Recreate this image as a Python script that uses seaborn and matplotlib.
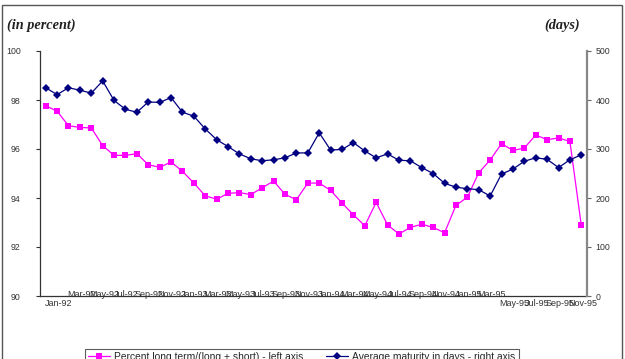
import numpy as np
import pandas as pd
import matplotlib
matplotlib.use("Agg")
import matplotlib.pyplot as plt
import matplotlib.transforms as mtransforms
from matplotlib.patches import Rectangle
import seaborn as sns

# ---- data (monthly, Jan-92 .. Dec-95) ----
pct_long = [97.77, 97.54, 96.95, 96.88, 96.86, 96.14, 95.74, 95.74, 95.81, 95.36,
            95.25, 95.47, 95.09, 94.61, 94.09, 93.95, 94.19, 94.22, 94.14, 94.42,
            94.69, 94.15, 93.93, 94.61, 94.61, 94.31, 93.80, 93.31, 92.87, 93.82,
            92.90, 92.53, 92.80, 92.93, 92.80, 92.58, 93.70, 94.03, 95.03, 95.55,
            96.22, 95.94, 96.04, 96.57, 96.38, 96.45, 96.31, 92.88]
avg_maturity = [425, 411, 425, 420, 414, 439, 399, 381, 375, 396,
                395, 405, 375, 367, 341, 319, 305, 290, 280, 276,
                278, 282, 292, 292, 333, 298, 299, 313, 296, 282,
                290, 277, 276, 262, 250, 230, 222, 219, 217, 204,
                249, 259, 275, 282, 279, 262, 278, 288]
tick_labels = ["Jan-92", "Mar-92", "May-92", "Jul-92", "Sep-92", "Nov-92",
               "Jan-93", "Mar-93", "May-93", "Jul-93", "Sep-93", "Nov-93",
               "Jan-94", "Mar-94", "May-94", "Jul-94", "Sep-94", "Nov-94",
               "Jan-95", "Mar-95", "May-95", "Jul-95", "Sep-95", "Nov-95"]
label_pct = "Percent long term/(long + short) - left axis"
label_mat = "Average maturity in days - right axis"

df = pd.DataFrame({"month": np.arange(len(pct_long)),
                   "pct": pct_long, "mat": avg_maturity})

sns.set_style("white")
plt.rcParams["font.family"] = ["Liberation Sans", "DejaVu Sans"]

W, H = 625, 359
fig = plt.figure(figsize=(W / 100, H / 100), dpi=100)

# chart border
fig.patches.append(Rectangle((2 / W, -0.2), 620 / W, 1.2 - 5 / H,
                             transform=fig.transFigure, fill=False,
                             edgecolor="#555555", linewidth=1.0))

ax = fig.add_axes([40 / W, 1 - 296 / H, (587 - 40) / W, (296 - 51) / H])
ax2 = ax.twinx()

sns.lineplot(data=df, x="month", y="pct", ax=ax, color="#FF00FF",
             marker="s", markersize=4, markeredgewidth=0, linewidth=0.9,
             label=label_pct, legend=False)
sns.lineplot(data=df, x="month", y="mat", ax=ax2, color="#000080",
             marker="D", markersize=3.6, markeredgewidth=0, linewidth=0.9,
             label=label_mat, legend=False)

n = len(pct_long)
ax.set_xlim(-0.5, n - 0.5)
ax.set_ylim(90, 100)
ax2.set_ylim(0, 500)
ax.set_yticks(np.arange(90, 101, 2))
ax2.set_yticks(np.arange(0, 501, 100))

# x ticks: small marks between category pairs, labels every 2 months
ax.set_xticks(np.arange(-0.5, n, 2), minor=True)
ax.set_xticks(np.arange(len(tick_labels)) * 2 + 1.1)
ax.set_xticklabels(tick_labels)
ax.tick_params(axis="x", which="major", length=0, pad=2, labelsize=6.5,
               labelcolor="#333333")
ax.tick_params(axis="x", which="minor", length=2.5, width=0.8,
               direction="out", color="#333333")
ax.tick_params(axis="y", length=3, width=0.8, direction="out",
               labelsize=6.3, pad=11, labelcolor="#333333", color="#333333")
ax2.tick_params(axis="y", length=3, width=0.8, direction="out",
                labelsize=6.3, pad=3, labelcolor="#333333", color="#666666")

# labels of the middle span are drawn raised, overlapping the axis line
shift = mtransforms.ScaledTranslation(0, 8.5 / 100, fig.dpi_scale_trans)
for i, t in enumerate(ax.get_xticklabels()):
    if 1 <= i <= 19:
        t.set_transform(t.get_transform() + shift)

ax.set_xlabel("")
ax.set_ylabel("")
ax2.set_ylabel("")
for a in (ax, ax2):
    a.spines["top"].set_visible(False)
    a.patch.set_visible(False)
ax.spines["left"].set_color("#333333")
ax.spines["left"].set_linewidth(0.9)
ax.spines["bottom"].set_color("#333333")
ax.spines["bottom"].set_linewidth(0.9)
ax.spines["right"].set_visible(False)
ax2.spines["left"].set_visible(False)
ax2.spines["bottom"].set_visible(False)
ax2.spines["right"].set_color("#888888")
ax2.spines["right"].set_linewidth(1.6)

# header texts
fig.text(7 / W, 1 - 25 / H, "(in percent)", family="Liberation Serif",
         style="italic", weight="bold", fontsize=10.3, va="center", ha="left",
         color="#222222")
fig.text(580 / W, 1 - 25 / H, "(days)", family="Liberation Serif",
         style="italic", weight="bold", fontsize=10.3, va="center", ha="right",
         color="#222222")

h1, l1 = ax.get_legend_handles_labels()
h2, l2 = ax2.get_legend_handles_labels()
leg = fig.legend(h1 + h2, l1 + l2, loc="upper left",
                 bbox_to_anchor=(85 / W, 1 - 349 / H), ncol=2,
                 fontsize=7.4, frameon=True, fancybox=False,
                 handlelength=2.1, handletextpad=0.45, columnspacing=2.2,
                 borderpad=0.3, borderaxespad=0)
leg.get_frame().set_edgecolor("#333333")
leg.get_frame().set_linewidth(0.8)

fig.savefig("out.png", dpi=100)
